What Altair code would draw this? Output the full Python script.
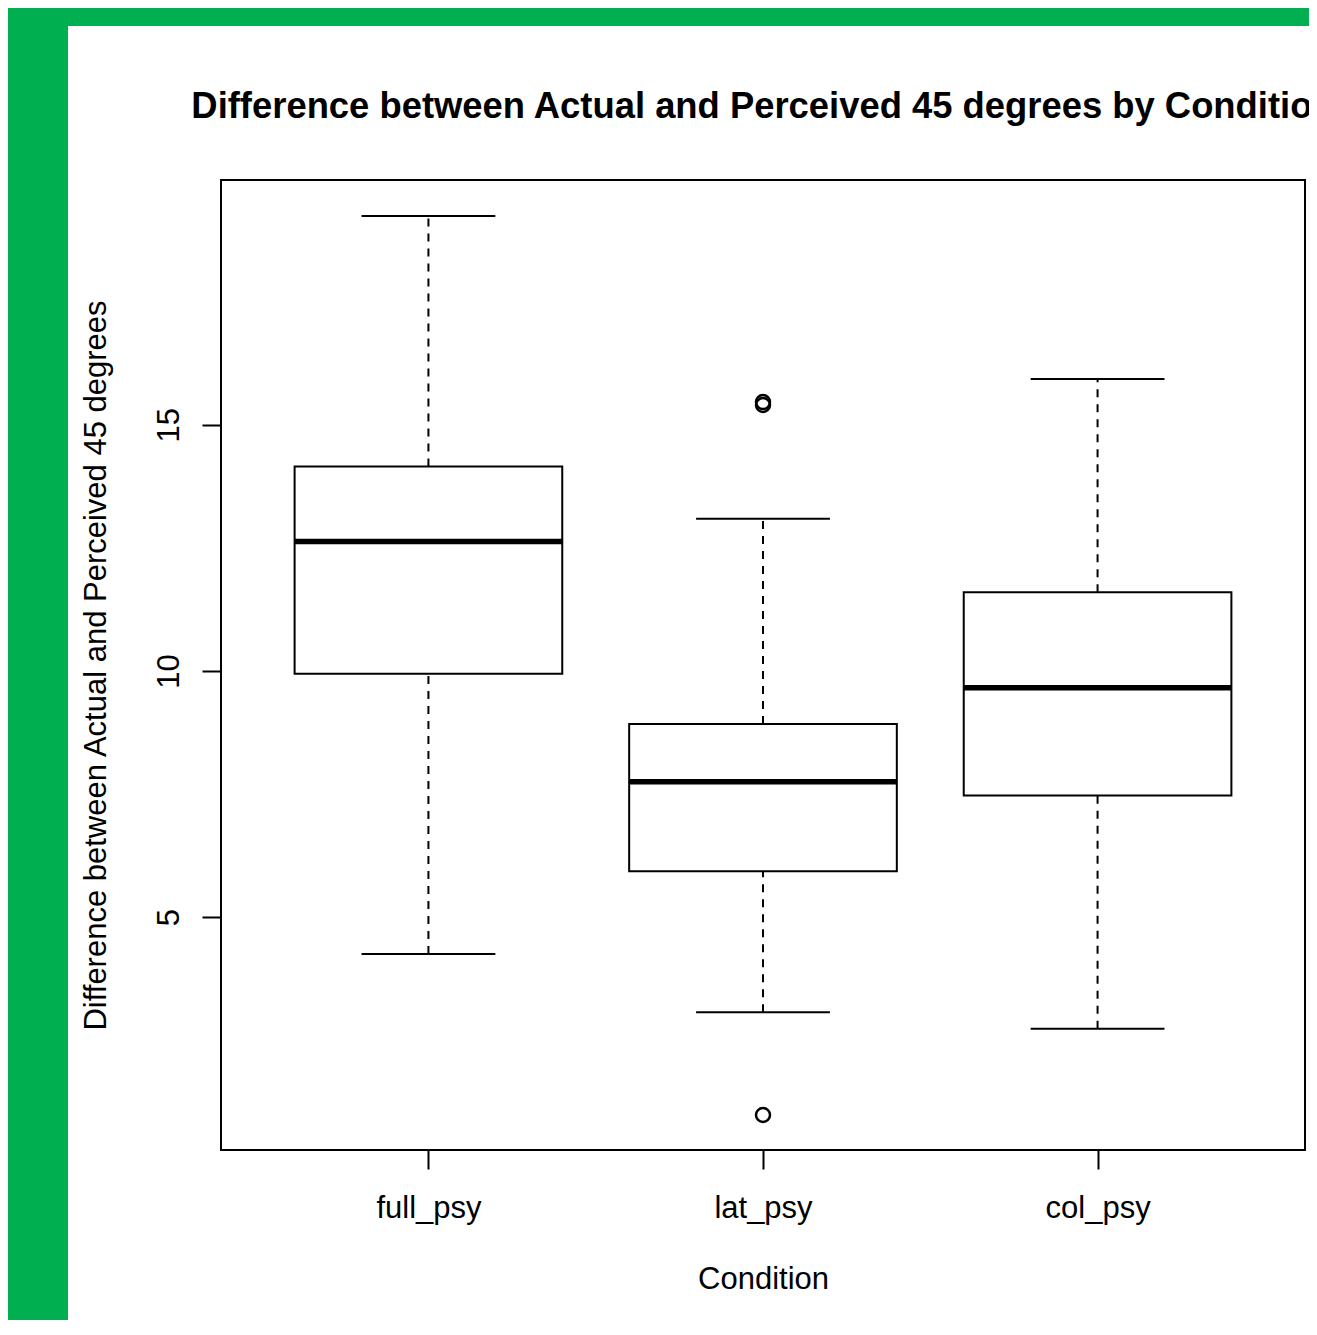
import altair as alt
import pandas as pd

# ---- data ----
conditions = ["full_psy", "lat_psy", "col_psy"]
positions = [1, 2, 3]
whisker_low = [4.25, 3.07, 2.73]
q1 = [9.94, 5.93, 7.47]
median = [12.63, 7.75, 9.66]
q3 = [14.15, 8.92, 11.60]
whisker_high = [19.24, 13.09, 15.93]
outlier_position = [2, 2, 2]
outlier_values = [15.40, 15.46, 0.98]
y_ticks = [5, 10, 15]

FONT = "Liberation Sans"
GREEN = "#00B050"
W, H = 1084, 970
PAD = {"left": 213, "top": 172, "right": 4, "bottom": 170}

box_df = pd.DataFrame({
    "condition": conditions,
    "pos": positions,
    "wlo": whisker_low,
    "q1": q1,
    "med": median,
    "q3": q3,
    "whi": whisker_high,
})
out_df = pd.DataFrame({"pos": outlier_position, "val": outlier_values})

label_expr = ""
for p, c in zip(positions, conditions):
    label_expr += f"datum.value == {p} ? '{c}' : "
label_expr += "''"

x_scale = alt.Scale(domain=[0.38, 3.62], nice=False, zero=False)
y_scale = alt.Scale(domain=[0.27, 19.97], nice=False, zero=False)

x_axis = alt.Axis(
    values=positions, labelExpr=label_expr, title="Condition", grid=False,
    domain=False, tickSize=19, tickWidth=2, tickColor="black",
    labelFont=FONT, labelFontSize=31, labelColor="black", labelPadding=24,
    labelBaseline="top", labelFlush=False, labelOverlap=False,
    titleFont=FONT, titleFontSize=31, titleFontWeight="normal",
    titleColor="black", titleX=W / 2, titleY=138, titleAlign="center",
    titleBaseline="alphabetic",
)
y_axis = alt.Axis(
    values=y_ticks, title="Difference between Actual and Perceived 45 degrees",
    grid=False, domain=False, tickSize=19, tickWidth=2, tickColor="black",
    labelFont=FONT, labelFontSize=31, labelColor="black", labelPadding=24,
    labelAngle=270, labelAlign="center", labelBaseline="alphabetic",
    labelFlush=False, labelOverlap=False,
    titleFont=FONT, titleFontSize=31, titleFontWeight="normal",
    titleColor="black", titleAngle=270, titleX=-116, titleY=H / 2,
    titleAlign="center", titleBaseline="alphabetic",
)


def X(field):
    return alt.X(f"{field}:Q", scale=x_scale, axis=x_axis, title="Condition")


def Y(field):
    return alt.Y(f"{field}:Q", scale=y_scale, axis=y_axis,
                 title="Difference between Actual and Perceived 45 degrees")


base = alt.Chart(box_df).transform_calculate(
    lo="datum.pos - 0.4", hi="datum.pos + 0.4",
    clo="datum.pos - 0.2", chi="datum.pos + 0.2",
)

# decorative green strips (left and top)
blank = alt.Data(values=[{}])
strip_left = alt.Chart(blank).mark_rect(color=GREEN).encode(
    x=alt.value(-PAD["left"]), x2=alt.value(-PAD["left"] + 60),
    y=alt.value(-PAD["top"]), y2=alt.value(H + PAD["bottom"]),
)
strip_top = alt.Chart(blank).mark_rect(color=GREEN).encode(
    x=alt.value(-PAD["left"]), x2=alt.value(W + PAD["right"]),
    y=alt.value(-PAD["top"]), y2=alt.value(-PAD["top"] + 18),
)

dash = [8, 7]
upper_whisker = base.mark_rule(color="black", strokeWidth=2, strokeDash=dash).encode(
    x=X("pos"), y=Y("q3"), y2="whi:Q")
lower_whisker = base.mark_rule(color="black", strokeWidth=2, strokeDash=dash).encode(
    x=X("pos"), y=Y("wlo"), y2="q1:Q")
upper_cap = base.mark_rule(color="black", strokeWidth=2).encode(
    x=X("clo"), x2="chi:Q", y=Y("whi"))
lower_cap = base.mark_rule(color="black", strokeWidth=2).encode(
    x=X("clo"), x2="chi:Q", y=Y("wlo"))
boxes = base.mark_rect(fill="white", stroke="black", strokeWidth=2).encode(
    x=X("lo"), x2="hi:Q", y=Y("q1"), y2="q3:Q")
medians = base.mark_rule(color="black", strokeWidth=5.5).encode(
    x=X("lo"), x2="hi:Q", y=Y("med"))
outliers = alt.Chart(out_df).mark_point(
    shape="circle", filled=False, size=196, color="black", strokeWidth=2.5, opacity=1
).encode(x=X("pos"), y=Y("val"))

frame = alt.Chart(blank).mark_rect(fill="transparent", stroke="black", strokeWidth=2).encode(
    x=alt.value(0), x2=alt.value(W), y=alt.value(0), y2=alt.value(H))

chart = alt.layer(
    strip_left, strip_top, upper_whisker, lower_whisker, upper_cap, lower_cap,
    boxes, medians, outliers, frame,
).properties(
    width=W, height=H,
    title=alt.TitleParams(
        "Difference between Actual and Perceived 45 degrees by Condition",
        font=FONT, fontSize=36.4, fontWeight="bold", color="black",
        anchor="middle", frame="group", baseline="alphabetic", offset=0,
        dy=146,
    ),
    autosize=alt.AutoSizeParams(type="none"),
    padding=PAD,
    background="white",
).configure_view(stroke=None)

chart.save("out.html", embed_options={"renderer": "svg", "actions": False})
